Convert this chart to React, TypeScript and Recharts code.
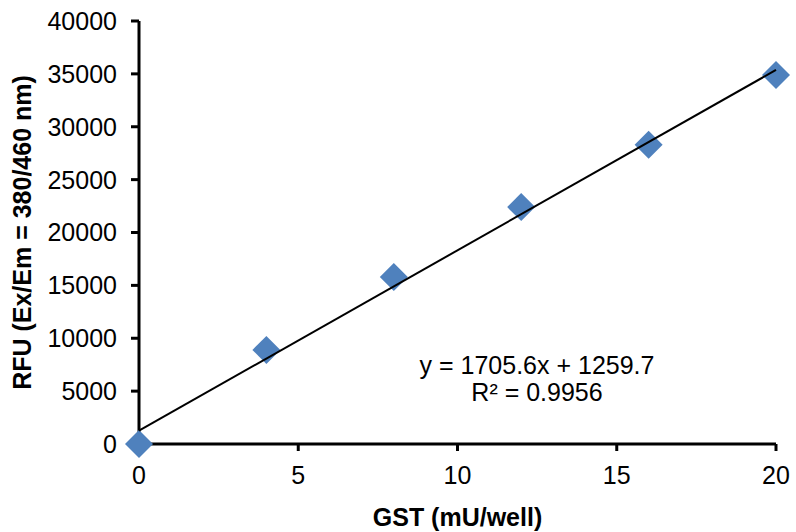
import { ScatterChart, Scatter, XAxis, YAxis, Label, Customized } from "recharts";

const gstValues = [0, 4, 8, 12, 16, 20];
const rfuValues = [0, 8900, 15800, 22400, 28300, 34900];
const xTicks = [0, 5, 10, 15, 20];
const yTicks = [0, 5000, 10000, 15000, 20000, 25000, 30000, 35000, 40000];
// trendline endpoints from y = 1705.6x + 1259.7
const trendX = [0, 20];
const trendY = [1259.7, 35371.7];

const points = gstValues.map((x, i) => ({ x, y: rfuValues[i] }));
const trend = trendX.map((x, i) => ({ x, y: trendY[i] }));

const FONT = '"Liberation Sans", Arial, sans-serif';
const BLUE = "#4F81BD";

function Diamond(props: any) {
  const { cx, cy } = props;
  const r = 14;
  return (
    <polygon
      points={`${cx},${cy - r} ${cx + r},${cy} ${cx},${cy + r} ${cx - r},${cy}`}
      fill={BLUE}
    />
  );
}

function Equation() {
  return (
    <g fontFamily={FONT} fontSize={25} fill="#000" textAnchor="middle">
      <text x={537} y={374}>y = 1705.6x + 1259.7</text>
      <text x={537} y={401}>R² = 0.9956</text>
    </g>
  );
}

export default function App() {
  return (
    <div style={{ position: "absolute", left: 0, top: 0, background: "#fff" }}>
      <ScatterChart
        width={796}
        height={532}
        margin={{ top: 21, right: 20, bottom: 0, left: 0 }}
      >
        <XAxis
          type="number"
          dataKey="x"
          domain={[0, 20]}
          ticks={xTicks}
          height={88}
          axisLine={{ stroke: "#000", strokeWidth: 3 }}
          tickLine={{ stroke: "#000", strokeWidth: 3 }}
          tickSize={7}
          tickMargin={15}
          tick={{ fill: "#000", fontSize: 25, fontFamily: FONT }}
        >
          <Label
            value="GST (mU/well)"
            position="insideBottom"
            offset={6}
            style={{ fontFamily: FONT, fontSize: 25, fontWeight: "bold", fill: "#000" }}
          />
        </XAxis>
        <YAxis
          type="number"
          dataKey="y"
          domain={[0, 40000]}
          ticks={yTicks}
          width={139}
          axisLine={{ stroke: "#000", strokeWidth: 3 }}
          tickLine={{ stroke: "#000", strokeWidth: 3 }}
          tickSize={8}
          tickMargin={14}
          tick={{ fill: "#000", fontSize: 25, fontFamily: FONT }}
        >
          <Label
            value="RFU (Ex/Em = 380/460 nm)"
            angle={-90}
            position="insideLeft"
            offset={22}
            style={{
              fontFamily: FONT,
              fontSize: 25,
              fontWeight: "bold",
              fill: "#000",
              textAnchor: "middle",
            }}
          />
        </YAxis>
        <Scatter data={points} shape={<Diamond />} isAnimationActive={false} />
        <Scatter
          data={trend}
          line={{ stroke: "#000", strokeWidth: 2 }}
          shape={() => null}
          isAnimationActive={false}
        />
        <Customized component={Equation} />
      </ScatterChart>
    </div>
  );
}
